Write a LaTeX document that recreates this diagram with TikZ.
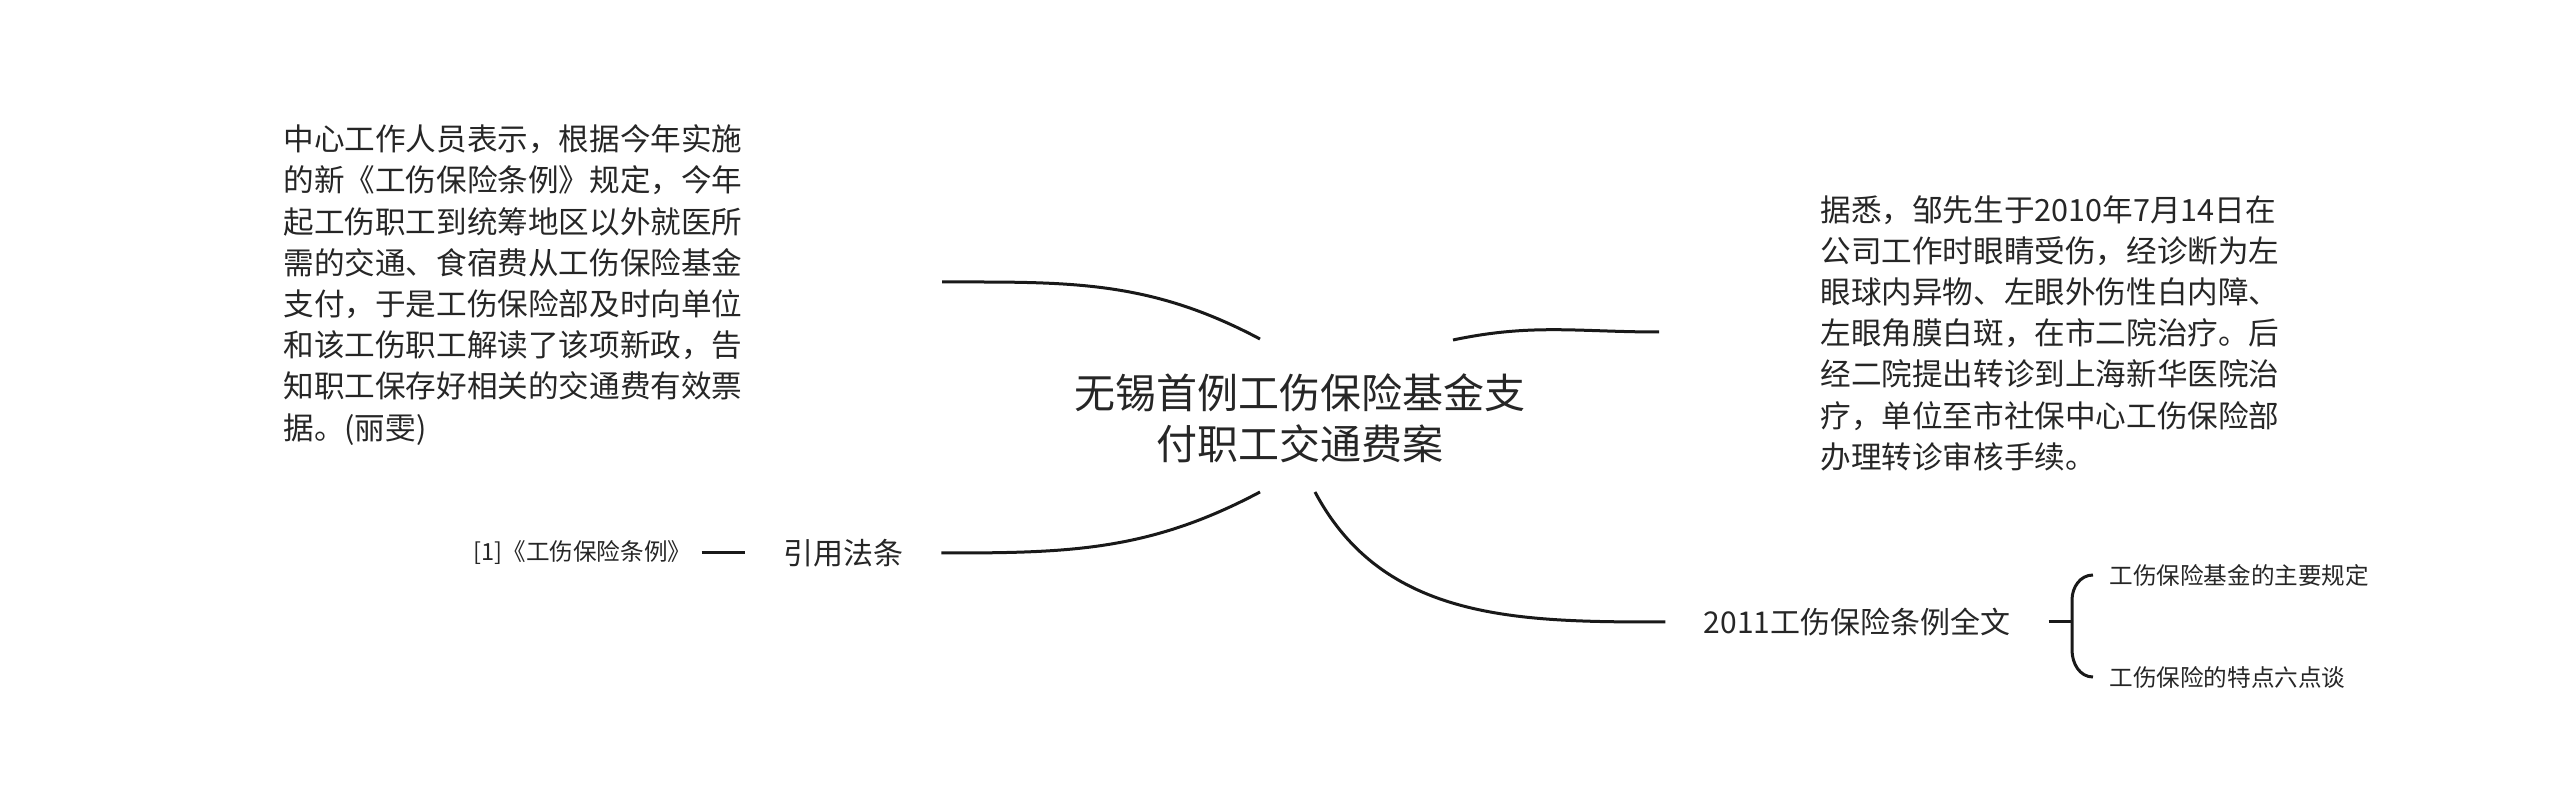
\documentclass[tikz,border=0pt]{standalone}
\usepackage{fontspec}
\setmainfont{Noto Sans CJK SC}
\usetikzlibrary{positioning}

\tikzset{
  branch/.style={line width=1.5pt, black!90},
  topic/.style={font=\fontsize{20.5pt}{25.5pt}\selectfont, align=center, inner sep=0pt, text=black!85},
  note/.style={font=\fontsize{15.3pt}{20.6pt}\selectfont, align=left, inner sep=0pt, text=black!85},
  sub/.style={font=\fontsize{15pt}{20pt}\selectfont, inner xsep=19pt, inner ysep=0pt, text=black!85},
  leaf/.style={font=\fontsize{11.8pt}{14pt}\selectfont, inner ysep=0pt, text=black!85},
}

\begin{document}
\begin{tikzpicture}[x=0.5pt,y=-0.5pt]
  \useasboundingbox (0,0) rectangle (2560,806);
  % centre
  \node[topic] (root) at (1300,418) {无锡首例工伤保险基金支\\付职工交通费案};
  \coordinate (rNW) at (1260,339);
  \coordinate (rNE) at (1453,340);
  \coordinate (rSW) at (1260,492);
  \coordinate (rSE) at (1315,492);
  % notes
  \node[note, anchor=west] (lnote) at (283,285) {中心工作人员表示，根据今年实施\\的新《工伤保险条例》规定，今年\\起工伤职工到统筹地区以外就医所\\需的交通、食宿费从工伤保险基金\\支付，于是工伤保险部及时向单位\\和该工伤职工解读了该项新政，告\\知职工保存好相关的交通费有效票\\据。(丽雯)};
  \coordinate (lend) at (942,282);
  \node[note, anchor=west] (rnote) at (1820,333) {据悉，邹先生于2010年7月14日在\\公司工作时眼睛受伤，经诊断为左\\眼球内异物、左眼外伤性白内障、\\左眼角膜白斑，在市二院治疗。后\\经二院提出转诊到上海新华医院治\\疗，单位至市社保中心工伤保险部\\办理转诊审核手续。};
  \coordinate (rend) at (1659,332);
  % topics
  \node[sub] (law) at (843,553) {引用法条};
  \node[leaf, inner xsep=5pt, left=21.5pt of law] (ref) {[1]《工伤保险条例》};
  \node[sub] (full) at (1857,622) {2011工伤保险条例全文};
  \coordinate (fork) at (2072,622);
  \node[leaf, anchor=west, inner xsep=8pt] (it1) at (2093,575) {工伤保险基金的主要规定};
  \node[leaf, anchor=west, inner xsep=8pt] (it2) at (2093,677) {工伤保险的特点六点谈};

  \draw[branch] (rNW) to[out=152,in=0] (lend);
  \draw[branch] (rNE) to[out=12,in=180] (rend);
  \draw[branch] (rSW) to[out=208,in=0] (law.east);
  \draw[branch] (rSE) to[out=-62,in=180] (full.west);
  \draw[branch] (ref) -- (law);
  \draw[branch] (full.east) -- (fork);
  \draw[branch] (it1.west) to[out=180,in=90] (2072,600) -- (2072,650) to[out=-90,in=180] (it2.west);
\end{tikzpicture}
\end{document}
